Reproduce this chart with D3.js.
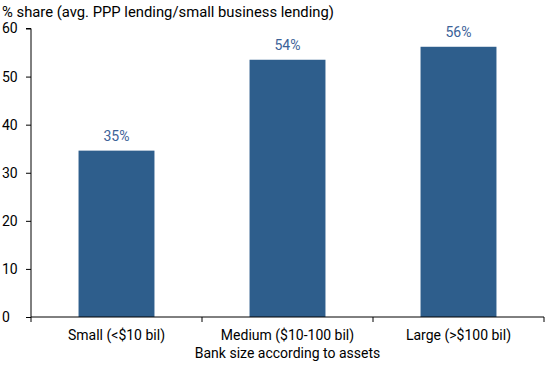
<!DOCTYPE html>
<html><head><meta charset="utf-8">
<script src="https://cdn.jsdelivr.net/npm/d3@7"></script>
<style>body{margin:0;background:#fff}svg{display:block;font-family:Roboto,"Liberation Sans",sans-serif}</style>
</head><body>
<script>
const categories = ["Small (<$10 bil)", "Medium ($10-100 bil)", "Large (>$100 bil)"];
const values = [34.6, 53.5, 56.2];
const valueLabels = ["35%", "54%", "56%"];
const yTicks = [0, 10, 20, 30, 40, 50, 60];

const W = 550, H = 365;
const m = {left: 31, right: 6, top: 28.5, bottom: 48};
const svg = d3.select("body").append("svg").attr("width", W).attr("height", H);

const x = d3.scaleBand().domain(categories).range([m.left, W - m.right]).paddingInner(0.556).paddingOuter(0.278);
const y = d3.scaleLinear().domain([0, 60]).range([317, m.top]);

svg.selectAll("rect.bar").data(values).join("rect")
  .attr("x", (d, i) => x(categories[i])).attr("width", x.bandwidth())
  .attr("y", d => y(d)).attr("height", d => y(0) - y(d)).attr("fill", "#2e5e8c");

svg.selectAll("text.vl").data(values).join("text")
  .attr("x", (d, i) => x(categories[i]) + x.bandwidth() / 2).attr("y", d => y(d) - 10)
  .attr("text-anchor", "middle").attr("font-size", 14).attr("fill", "#3b6298")
  .text((d, i) => valueLabels[i]);

const ya = svg.append("g").attr("transform", `translate(${m.left},0)`)
  .call(d3.axisLeft(y).tickValues(yTicks).tickSize(5).tickPadding(4));
ya.select(".domain").attr("d", `M-5,${y(60)}H0V${y(0)}`);
ya.selectAll("text").attr("font-size", 14).attr("fill", "#000").attr("font-family", "Roboto").attr("x", -29).attr("text-anchor", "start");

const xa = svg.append("g").attr("transform", `translate(0,${y(0)})`);
xa.append("line").attr("x1", m.left).attr("x2", W - m.right).attr("stroke", "#000");
const bounds = [m.left].concat(categories.map(c => x(c) + x.bandwidth() + x.step() * x.paddingInner() / 2));
bounds[bounds.length - 1] = W - m.right;
xa.selectAll("line.t").data(bounds).join("line").attr("class", "t")
  .attr("x1", d => d).attr("x2", d => d).attr("y1", 0).attr("y2", 5).attr("stroke", "#000");
xa.selectAll("text").data(categories).join("text")
  .attr("x", d => x(d) + x.bandwidth() / 2).attr("y", 23)
  .attr("text-anchor", "middle").attr("font-size", 14).attr("fill", "#000").text(d => d);

svg.append("text").attr("x", (m.left + W - m.right) / 2).attr("y", 358).attr("text-anchor", "middle")
  .attr("font-size", 14).text("Bank size according to assets");
svg.append("text").attr("x", 2).attr("y", 17).attr("font-size", 14.8).text("% share (avg. PPP lending/small business lending)");
</script>
</body></html>
